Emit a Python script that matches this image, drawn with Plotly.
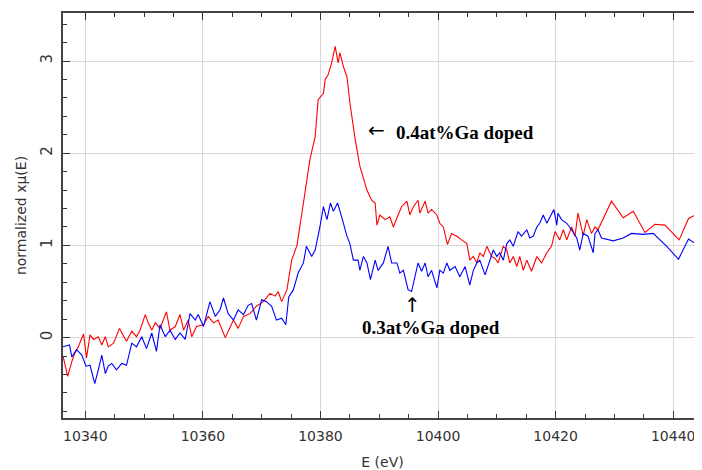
import plotly.graph_objects as go

# ---- data ----
red_energy = [
    10336.2, 10337.0, 10337.7, 10338.2, 10338.8, 10339.7, 10340.2, 10340.8, 10341.4, 10342.2,
    10342.8, 10343.4, 10343.9, 10344.8, 10345.8, 10346.5, 10347.0, 10347.9, 10348.7, 10349.3,
    10350.2, 10350.7, 10351.3, 10351.9, 10352.7, 10353.8, 10354.4, 10355.3, 10356.1, 10356.7,
    10357.5, 10358.1, 10358.9, 10360.1, 10360.9, 10361.8, 10362.6, 10363.8, 10364.6, 10365.2,
    10366.0, 10366.9, 10368.0, 10369.1, 10370.3, 10371.4, 10372.3, 10372.8, 10373.4, 10374.3,
    10375.1, 10376.0, 10377.1, 10378.2, 10379.1, 10379.6, 10380.5, 10380.8, 10381.3, 10381.9,
    10382.5, 10383.0, 10383.3, 10383.9, 10384.5, 10385.0, 10385.9, 10386.7, 10387.9, 10388.7,
    10389.3, 10389.6, 10390.1, 10391.0, 10391.8, 10392.4, 10393.2, 10393.8, 10394.7, 10395.2,
    10395.8, 10396.6, 10396.9, 10397.8, 10398.3, 10398.9, 10399.8, 10400.3, 10400.9, 10401.6,
    10402.3, 10403.2, 10404.0, 10404.9, 10405.4, 10406.0, 10406.6, 10407.1, 10407.7, 10408.3,
    10409.1, 10409.7, 10410.2, 10411.1, 10411.7, 10412.2, 10412.8, 10413.4, 10413.9, 10414.5,
    10415.1, 10415.9, 10416.8, 10417.6, 10418.5, 10419.3, 10419.9, 10420.7, 10421.3, 10421.9,
    10422.7, 10423.3, 10423.8, 10424.7, 10425.3, 10426.1, 10426.7, 10427.2, 10429.5, 10431.5,
    10433.2, 10435.2, 10436.9, 10438.6, 10441.0, 10442.6, 10444.3, 10445.5,
]
red_mu = [
    -0.20, -0.42, -0.26, -0.17, -0.10, 0.04, -0.22, 0.03, -0.02, 0.01,
    -0.08, 0.01, -0.10, -0.06, 0.10, 0.01, -0.04, 0.07, 0.01, 0.08,
    0.25, 0.16, 0.08, 0.16, 0.10, 0.28, 0.08, 0.12, 0.25, 0.08,
    0.19, 0.01, 0.12, 0.14, 0.23, 0.16, 0.19, 0.00, 0.12, 0.19,
    0.10, 0.23, 0.26, 0.34, 0.39, 0.48, 0.45, 0.50, 0.39, 0.52,
    0.84, 1.00, 1.46, 1.93, 2.18, 2.58, 2.65, 2.80, 2.85, 2.98,
    3.16, 2.98, 3.09, 2.94, 2.83, 2.55, 2.15, 1.86, 1.60, 1.49,
    1.46, 1.22, 1.33, 1.28, 1.31, 1.20, 1.33, 1.42, 1.48, 1.33,
    1.42, 1.49, 1.35, 1.48, 1.35, 1.39, 1.33, 1.24, 1.20, 1.01,
    1.13, 1.10, 1.06, 1.02, 0.84, 0.88, 0.81, 0.92, 0.88, 0.99,
    0.88, 0.86, 0.81, 0.99, 0.95, 0.81, 0.88, 0.77, 0.88, 0.73,
    0.84, 0.72, 0.88, 0.81, 0.92, 0.99, 1.15, 1.06, 1.17, 1.06,
    1.20, 1.10, 1.35, 1.11, 1.28, 1.13, 1.20, 1.17, 1.48, 1.30,
    1.37, 1.14, 1.23, 1.22, 1.06, 1.29, 1.35, 1.32,
]

blue_energy = [
    10336.2, 10337.3, 10337.7, 10338.5, 10339.4, 10340.1, 10340.8, 10341.6, 10342.2, 10342.8,
    10343.4, 10343.9, 10344.5, 10345.3, 10346.2, 10347.0, 10347.9, 10348.7, 10349.6, 10350.4,
    10351.3, 10352.1, 10352.7, 10353.6, 10354.4, 10355.3, 10356.1, 10357.0, 10357.8, 10358.7,
    10359.2, 10360.1, 10361.2, 10362.1, 10362.9, 10363.5, 10364.3, 10365.2, 10366.0, 10366.9,
    10367.7, 10368.3, 10369.1, 10370.0, 10370.8, 10371.7, 10372.5, 10373.4, 10374.1, 10374.6,
    10375.4, 10376.2, 10377.1, 10377.6, 10378.5, 10379.1, 10379.9, 10380.5, 10381.1, 10381.7,
    10382.2, 10382.9, 10383.6, 10384.5, 10385.0, 10385.6, 10386.4, 10386.7, 10387.3, 10387.9,
    10388.5, 10389.3, 10389.8, 10390.7, 10391.5, 10392.1, 10393.0, 10393.5, 10394.1, 10394.9,
    10395.5, 10396.1, 10396.6, 10397.2, 10397.8, 10398.3, 10398.9, 10399.8, 10400.3, 10400.9,
    10401.5, 10402.0, 10402.9, 10403.7, 10404.6, 10405.4, 10406.0, 10406.6, 10407.1, 10408.0,
    10408.8, 10409.4, 10410.0, 10410.5, 10411.1, 10411.7, 10412.2, 10412.8, 10413.6, 10414.2,
    10415.1, 10415.6, 10416.2, 10416.8, 10417.3, 10417.9, 10418.5, 10419.0, 10419.7, 10420.2,
    10420.4, 10421.0, 10421.9, 10422.7, 10423.6, 10424.1, 10424.7, 10425.5, 10426.4, 10426.7,
    10427.2, 10427.8, 10429.8, 10431.5, 10432.9, 10434.9, 10436.6, 10438.9, 10440.9, 10442.6,
    10444.9, 10445.5,
]
blue_mu = [
    -0.10, -0.08, -0.21, -0.13, -0.19, -0.31, -0.30, -0.50, -0.35, -0.19,
    -0.39, -0.31, -0.28, -0.35, -0.28, -0.30, -0.06, -0.10, 0.01, -0.12,
    0.05, -0.15, 0.14, 0.01, 0.08, -0.02, 0.05, -0.02, 0.26, 0.19,
    0.25, 0.12, 0.39, 0.23, 0.30, 0.43, 0.26, 0.19, 0.30, 0.25,
    0.35, 0.37, 0.19, 0.41, 0.39, 0.34, 0.19, 0.21, 0.14, 0.44,
    0.52, 0.70, 0.81, 0.99, 0.88, 0.95, 1.20, 1.42, 1.28, 1.46,
    1.37, 1.46, 1.31, 1.10, 1.02, 0.84, 0.84, 0.73, 0.88, 0.81,
    0.63, 0.84, 0.73, 0.81, 0.99, 0.81, 0.81, 0.70, 0.73, 0.52,
    0.50, 0.66, 0.81, 0.72, 0.81, 0.66, 0.73, 0.54, 0.73, 0.70,
    0.81, 0.73, 0.77, 0.66, 0.77, 0.57, 0.73, 0.81, 0.84, 0.68,
    0.84, 0.95, 0.88, 0.92, 0.84, 1.02, 1.06, 0.99, 1.15, 1.10,
    1.17, 1.08, 1.10, 1.20, 1.24, 1.33, 1.24, 1.30, 1.39, 1.22,
    1.35, 1.28, 1.24, 1.17, 1.08, 0.95, 1.13, 1.10, 0.92, 1.13,
    1.17, 1.08, 1.05, 1.08, 1.13, 1.12, 1.13, 0.99, 0.85, 1.07,
    0.97, 0.95,
]

x_ticks = [10340, 10360, 10380, 10400, 10420, 10440]
y_ticks = [0, 1, 2, 3]
label_red = "0.4at%Ga doped"
label_blue = "0.3at%Ga doped"

# ---- figure ----
fig = go.Figure()
fig.add_trace(go.Scatter(x=red_energy, y=red_mu, mode="lines",
                         line=dict(color="#ff0000", width=1.1), showlegend=False))
fig.add_trace(go.Scatter(x=blue_energy, y=blue_mu, mode="lines",
                         line=dict(color="#0000ff", width=1.1), showlegend=False))

axis_font = dict(family="DejaVu Sans", size=14, color="#333333")

fig.update_xaxes(
    range=[10336.2, 10444.9], automargin=False,
    tickvals=x_ticks, ticktext=[str(v) for v in x_ticks],
    ticks="inside", ticklen=7, tickwidth=1.2, tickcolor="#333333",
    minor=dict(dtick=5, tick0=10340, ticks="inside", ticklen=4, tickcolor="#333333", showgrid=False),
    showline=True, linecolor="#444444", linewidth=2, mirror="ticks",
    showgrid=True, gridcolor="#d8d8d8", gridwidth=1,
    zeroline=False, tickfont=axis_font, ticklabelstandoff=4,
    title=dict(text="E (eV)", font=axis_font, standoff=14),
)
fig.update_yaxes(
    range=[-0.872, 3.521], automargin=False,
    tickvals=y_ticks, ticktext=[str(v) for v in y_ticks], tickangle=-90,
    ticks="inside", ticklen=7, tickwidth=1.2, tickcolor="#333333",
    minor=dict(dtick=0.2, tick0=0, ticks="inside", ticklen=4, tickcolor="#333333", showgrid=False),
    showline=True, linecolor="#444444", linewidth=2, mirror=False,
    showgrid=True, gridcolor="#d8d8d8", gridwidth=1,
    zeroline=False, tickfont=dict(family="DejaVu Sans", size=15, color="#333333"),
    ticklabelstandoff=3,
    title=dict(text="normalized xμ(E)", font=axis_font, standoff=8),
)

ann_font = dict(family="Liberation Serif", size=19, color="#000000", weight="bold")
arrow_font = dict(family="DejaVu Sans", size=20, color="#000000")
fig.add_annotation(x=10404.6, y=2.22, text=label_red, showarrow=False, font=ann_font,
                   xanchor="center", yanchor="middle")
fig.add_annotation(x=10389.6, y=2.25, text="←", showarrow=False, font=arrow_font,
                   xanchor="center", yanchor="middle")
fig.add_annotation(x=10398.8, y=0.105, text=label_blue, showarrow=False, font=ann_font,
                   xanchor="center", yanchor="middle")
fig.add_annotation(x=10395.7, y=0.35, text="↑", showarrow=False, font=arrow_font,
                   xanchor="center", yanchor="middle")

# the page body adds an 8px offset, so the figure is 8px smaller and margins shifted
fig.update_layout(
    width=694, height=462,
    margin=dict(l=55, r=0, t=5, b=52),
    paper_bgcolor="white", plot_bgcolor="white",
    showlegend=False,
)

fig.write_html("out.html")
